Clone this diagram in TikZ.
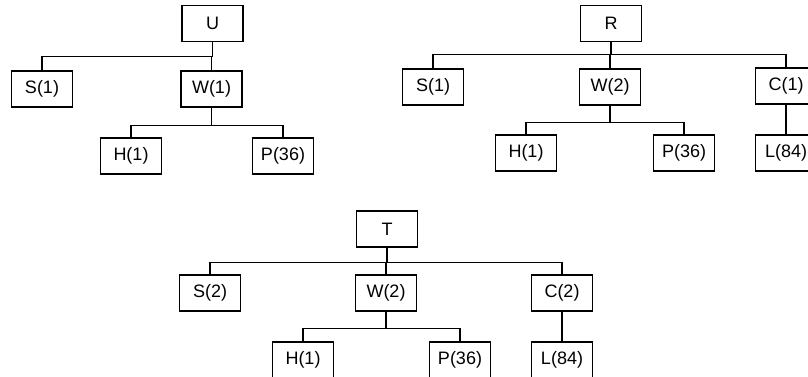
\documentclass[tikz,border=0pt]{standalone}
\usepackage{fontspec}
\setmainfont{Liberation Sans}
\usepackage{tikz}
\usetikzlibrary{positioning}
\tikzset{
  treebox/.style={draw, line width=1.3pt, align=center, font=\fontsize{18}{20}\selectfont,
                  minimum width=61pt, minimum height=36pt, inner sep=2pt},
  treeline/.style={line width=1.2pt}
}

\begin{document}
\begin{tikzpicture}[x=1pt, y=-1pt]

\clip (0,0) rectangle (808,377);
\useasboundingbox (0,0) rectangle (808,377);

% Tree U
\node[treebox] (u)   at (212.5,23.5) {U};
\node[treebox] (us)  at (42,89)      {S(1)};
\node[treebox] (uw)  at (211.5,89)   {W(1)};
\node[treebox] (uh)  at (131,156)    {H(1)};
\node[treebox] (up)  at (283,156)    {P(36)};

% Tree R
\node[treebox] (r)   at (611,23.5)   {R};
\node[treebox] (rs)  at (433,87)     {S(1)};
\node[treebox] (rw)  at (610,87)     {W(2)};
\node[treebox] (rc)  at (786,86)     {C(1)};
\node[treebox] (rh)  at (526,153)    {H(1)};
\node[treebox] (rp)  at (684,153)    {P(36)};
\node[treebox] (rl)  at (786,153)    {L(84)};

% Tree T
\node[treebox] (t)   at (387,229)    {T};
\node[treebox] (ts)  at (210,293)    {S(2)};
\node[treebox] (tw)  at (386,293)    {W(2)};
\node[treebox] (tc)  at (562,293)    {C(2)};
\node[treebox] (th)  at (303,360)    {H(1)};
\node[treebox] (tp)  at (460,360)    {P(36)};
\node[treebox] (tl)  at (562,360)    {L(84)};

% Connectors U
\draw[treeline] (u.south) -- ++(0,14) -| (us.north);
\draw[treeline] (u.south) -- ++(0,14) -| (uw.north);
\draw[treeline] (uw.south) -- ++(0,18) -| (uh.north);
\draw[treeline] (uw.south) -- ++(0,18) -| (up.north);

% Connectors R
\draw[treeline] (r.south) -- ++(0,12) -| (rs.north);
\draw[treeline] (r.south) -- ++(0,12) -| (rw.north);
\draw[treeline] (r.south) -- ++(0,12) -| (rc.north);
\draw[treeline] (rw.south) -- ++(0,17) -| (rh.north);
\draw[treeline] (rw.south) -- ++(0,17) -| (rp.north);
\draw[treeline] (rc) -- (rl);

% Connectors T
\draw[treeline] (t.south) -- ++(0,15) -| (ts.north);
\draw[treeline] (t.south) -- ++(0,15) -| (tw.north);
\draw[treeline] (t.south) -- ++(0,15) -| (tc.north);
\draw[treeline] (tw.south) -- ++(0,17) -| (th.north);
\draw[treeline] (tw.south) -- ++(0,17) -| (tp.north);
\draw[treeline] (tc) -- (tl);

\end{tikzpicture}
\end{document}
